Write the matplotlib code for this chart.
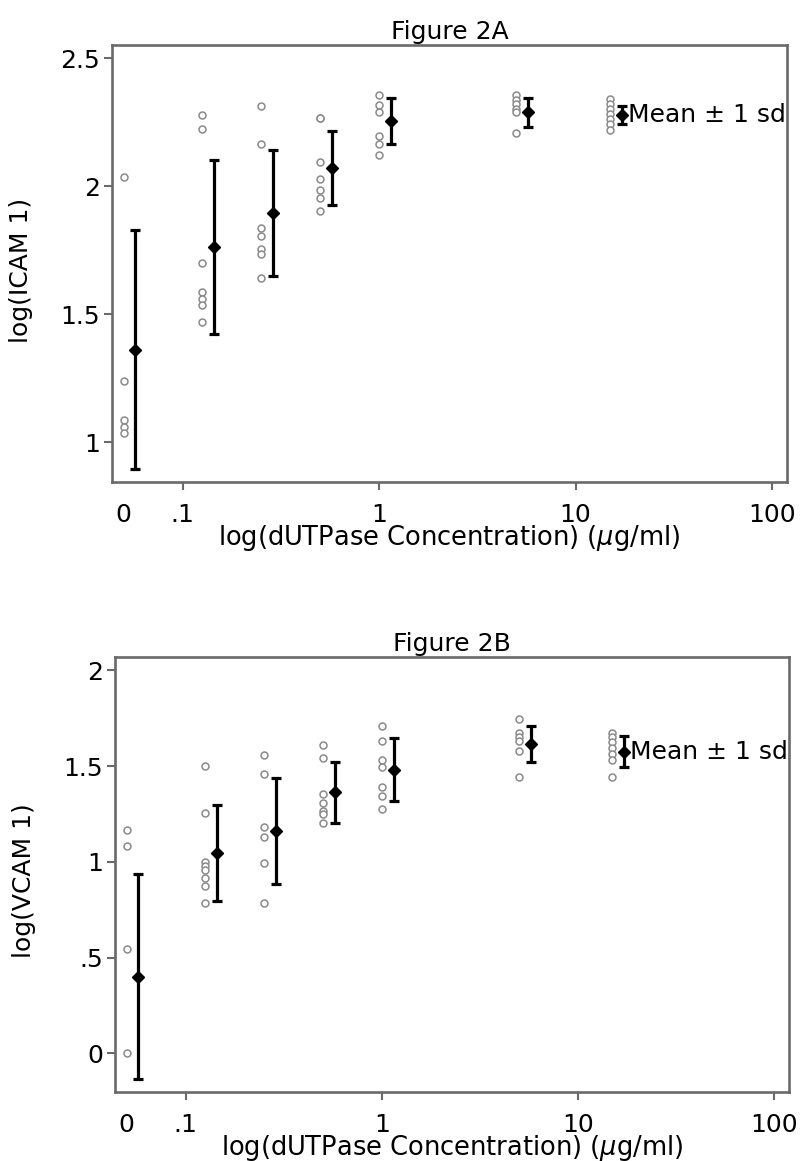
import matplotlib
matplotlib.use("Agg")
import matplotlib.pyplot as plt
import numpy as np

# dUTPase concentrations (ug/ml); control (0) is drawn at 0.05 on the log axis
conc = [0.05, 0.125, 0.25, 0.5, 1, 5, 15]
mean_shift = 1.15  # means drawn just right of the raw points

# Figure 2A - log(ICAM 1)
icam_points = [
    [2.036, 1.238, 1.089, 1.060, 1.036],
    [2.277, 2.223, 1.700, 1.587, 1.561, 1.538, 1.470],
    [2.314, 2.164, 1.837, 1.806, 1.754, 1.737, 1.642],
    [2.267, 2.267, 2.096, 2.030, 1.987, 1.956, 1.904],
    [2.358, 2.316, 2.290, 2.195, 2.167, 2.121],
    [2.355, 2.336, 2.320, 2.303, 2.290, 2.208],
    [2.342, 2.323, 2.303, 2.284, 2.264, 2.245, 2.221],
]
icam_mean = [1.362, 1.763, 1.896, 2.072, 2.255, 2.290, 2.278]
icam_sd = [0.467, 0.340, 0.247, 0.146, 0.089, 0.057, 0.034]

# Figure 2B - log(VCAM 1)
vcam_points = [
    [1.164, 1.084, 0.547, 0.0],
    [1.500, 1.253, 1.000, 0.978, 0.959, 0.916, 0.873, 0.784],
    [1.560, 1.461, 1.183, 1.131, 0.994, 0.784],
    [1.611, 1.541, 1.354, 1.310, 1.267, 1.250, 1.204],
    [1.710, 1.632, 1.532, 1.494, 1.389, 1.345, 1.274],
    [1.745, 1.675, 1.654, 1.633, 1.581, 1.445],
    [1.672, 1.651, 1.625, 1.594, 1.564, 1.532, 1.445],
]
vcam_mean = [0.400, 1.045, 1.160, 1.363, 1.482, 1.617, 1.576]
vcam_sd = [0.536, 0.250, 0.277, 0.160, 0.163, 0.095, 0.079]

xticks = [0.05, 0.1, 1, 10, 100]
xticklabels = ["0", ".1", "1", "10", "100"]
xlabel = r"log(dUTPase Concentration) ($\mu$g/ml)"

frame_col = "#6a6a6a"
pt_col = "#8a8a8a"
fs = 18

plt.rcParams["font.family"] = ["DejaVu Sans"]

fig = plt.figure(figsize=(8.01, 11.61), dpi=100)
ax_a = fig.add_axes([0.1398, 0.5848, 0.8427, 0.3764])
ax_b = fig.add_axes([0.1436, 0.0594, 0.8414, 0.3747])


def draw_panel(ax, points, means, sds, title, ylab, yticks, ylabels, ylim):
    for c, vals in zip(conc, points):
        ax.plot([c] * len(vals), vals, "o", ms=5, mfc="white", mec=pt_col,
                mew=1.1, zorder=2)
    xm = np.array(conc) * mean_shift
    ax.errorbar(xm, means, yerr=sds, fmt="D", ms=6.5, color="black",
                ecolor="black", elinewidth=2.3, capsize=3.8, capthick=2.3,
                zorder=3)
    ax.annotate("Mean \u00b1 1 sd", (xm[-1], means[-1]), xytext=(4, 0),
                textcoords="offset points", va="center", ha="left",
                fontsize=fs)

    ax.set_xscale("log")
    ax.set_xlim(10 ** -1.36, 10 ** 2.076)
    ax.set_ylim(*ylim)
    ax.set_xticks(xticks)
    ax.set_xticklabels(xticklabels)
    ax.xaxis.set_minor_locator(matplotlib.ticker.NullLocator())
    ax.xaxis.get_major_ticks()[0].tick1line.set_visible(False)
    ax.set_yticks(yticks)
    ax.set_yticklabels(ylabels)

    for s in ax.spines.values():
        s.set_color(frame_col)
        s.set_linewidth(1.9)
    ax.tick_params(axis="both", direction="out", length=5.5, width=1.5,
                   color=frame_col, labelsize=fs)
    ax.tick_params(axis="x", pad=9.5)
    ax.tick_params(axis="y", pad=3)

    ax.set_title(title, fontsize=fs, pad=4.5)
    ax.set_xlabel(xlabel, fontsize=18.5)
    ax.xaxis.set_label_coords(0.5, -0.094)
    ax.set_ylabel(ylab, fontsize=fs)
    ax.yaxis.set_label_coords(-0.117, 0.485)


draw_panel(ax_a, icam_points, icam_mean, icam_sd, "Figure 2A", "log(ICAM 1)",
           [1, 1.5, 2, 2.5], ["1", "1.5", "2", "2.5"], (0.845, 2.552))
draw_panel(ax_b, vcam_points, vcam_mean, vcam_sd, "Figure 2B", "log(VCAM 1)",
           [0, 0.5, 1, 1.5, 2], ["0", ".5", "1", "1.5", "2"], (-0.202, 2.07))

fig.savefig("out.png", dpi=100)
